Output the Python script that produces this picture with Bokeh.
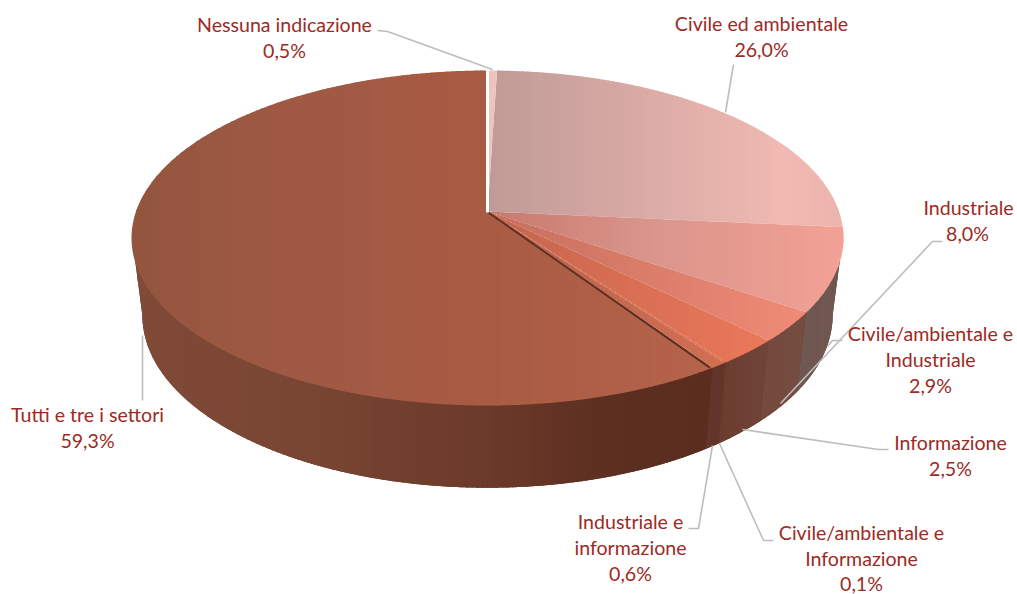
import numpy as np
from bokeh.plotting import figure
from bokeh.embed import file_html
from bokeh.resources import INLINE
from bokeh.core.properties import value

# ---- data (clockwise from 12 o'clock) ----
categories = ["Nessuna indicazione", "Civile ed ambientale", "Industriale",
              "Civile/ambientale e Industriale", "Informazione",
              "Civile/ambientale e Informazione", "Industriale e informazione",
              "Tutti e tre i settori"]
shares = [0.5, 26.0, 8.0, 2.9, 2.5, 0.1, 0.6, 59.3]
share_labels = ["0,5%", "26,0%", "8,0%", "2,9%", "2,5%", "0,1%", "0,6%", "59,3%"]

# ---- styling: colour stops (x pixel, colour) ----
top_stops = [
    [(489, "#eec4be"), (497, "#eec4be")],
    [(489, "#bf9b97"), (620, "#d6a8a3"), (780, "#f0b9b2"), (842, "#ecb4ac")],
    [(489, "#c8786c"), (640, "#d9948a"), (843, "#f3a195")],
    [(489, "#c56f5e"), (807, "#f08b77")],
    [(489, "#c4654d"), (769, "#ec785a")],
    [(489, "#c4654d"), (726, "#e07050")],
    [(489, "#b9624a"), (712, "#d06e52")],
    [(130, "#93553f"), (300, "#a05944"), (487, "#a95b43"), (712, "#b6644b")],
]
side_stops = [
    [(489, "#75504a"), (497, "#75504a")],
    [(760, "#75504a"), (843, "#75504a")],
    [(803, "#6f5850"), (843, "#705650")],
    [(767, "#754b3f"), (807, "#754c40")],
    [(718, "#6b3d2d"), (769, "#71443a")],
    [(700, "#64372a"), (726, "#64372a")],
    [(700, "#63362a"), (720, "#62352a")],
    [(130, "#7f4a37"), (300, "#7a4634"), (487, "#6c3a2a"), (600, "#5c2f20"), (712, "#5a2d1f")],
]
WALL_BASE = "#66392b"
TEXT = "#9c2b25"
GREY = "#bdbdbd"

# label lines: (text, centre x, centre y)
label_lines = [
    [("Nessuna indicazione", 284, 24), (share_labels[0], 284, 50)],
    [("Civile ed ambientale", 761, 23), (share_labels[1], 761, 49)],
    [("Industriale", 968, 207), (share_labels[2], 967, 233)],
    [("Civile/ambientale e", 930, 333), ("Industriale", 930, 359), (share_labels[3], 930, 385)],
    [("Informazione", 950, 442), (share_labels[4], 950, 468)],
    [("Civile/ambientale e", 861, 532), ("Informazione", 861, 558), (share_labels[5], 861, 583)],
    [("Industriale e", 630, 521), ("informazione", 630, 547), (share_labels[6], 630, 573)],
    [("Tutti e tre i settori", 87, 414), (share_labels[7], 87, 440)],
]
leaders = [
    [(377, 30), (387, 31), (492, 69)],
    [(725, 112), (733, 64)],
    [(942, 241), (932, 241), (780, 403)],
    [(842, 340), (832, 340), (827, 346)],
    [(888, 449), (878, 449), (742, 429)],
    [(773, 540), (763, 540), (719, 443)],
    [(688, 528), (698, 528), (712, 445)],
    [(142, 400), (142, 335)],
]

# ---- projection of the pie's disc: perspective view ----
CX = 487.0
K = 53 / 335


def project(theta, apex_y, bx, ay):
    den = 1 + K * np.cos(theta)
    return (CX + bx * np.sin(theta) / den, apex_y - ay * np.cos(theta) / den)


TOP = dict(apex_y=211.0, bx=351.5, ay=163.3)
TOP_UNDER = dict(apex_y=209.5, bx=351.0, ay=163.3)   # wall runs a little under the top face
BOT = dict(apex_y=288.0, bx=340.7, ay=167.7)


def hex2rgb(h):
    return [int(h[i:i + 2], 16) for i in (1, 3, 5)]


def colour(stops, x):
    xs = [s[0] for s in stops]
    rgb = [np.interp(x, xs, [hex2rgb(s[1])[c] for s in stops]) for c in range(3)]
    return "#%02x%02x%02x" % tuple(int(round(v)) for v in rgb)


def clip(poly, a, b):
    def half(pts, inside, cut):
        out = []
        for i in range(len(pts)):
            p0, p1 = pts[i - 1], pts[i]
            i0, i1 = inside(p0), inside(p1)
            if i0 != i1:
                t = (cut - p0[0]) / (p1[0] - p0[0])
                out.append((cut, p0[1] + t * (p1[1] - p0[1])))
            if i1:
                out.append(p1)
        return out
    pts = half(poly, lambda q: q[0] >= a, a)
    if pts:
        pts = half(pts, lambda q: q[0] <= b, b)
    return pts


def strips(poly, stops, xs_out, ys_out, c_out, width=5):
    """Cut a polygon in vertical strips, each overlapping the next by a pixel."""
    x_min, x_max = min(q[0] for q in poly), max(q[0] for q in poly)
    left = x_min
    while left < x_max:
        right = min(left + width, x_max)
        piece = clip(poly, left, right + 1)
        if len(piece) >= 3:
            xs_out.append([q[0] for q in piece])
            ys_out.append([q[1] for q in piece])
            c_out.append(colour(stops, (left + right) / 2))
        left = right


def wall_polygon(theta):
    tx_, ty_ = project(theta, **TOP_UNDER)
    bx_, by_ = project(theta[::-1], **BOT)
    return list(zip(tx_.tolist(), ty_.tolist())) + list(zip(bx_.tolist(), by_.tolist()))


edges = np.cumsum([0.0] + shares) / 100 * 2 * np.pi
edges[-1] = 2 * np.pi

xs_side, ys_side, c_side = [], [], []
xs_top, ys_top, c_top = [], [], []

for i in range(len(shares)):
    # side wall: only the part that faces the viewer, up to the outline's tangent
    th = np.linspace(edges[i], edges[i + 1], max(3, int((edges[i + 1] - edges[i]) / 0.005)))
    front = th[np.cos(th) < -K]
    if len(front) >= 2:
        strips(wall_polygon(front), side_stops[i], xs_side, ys_side, c_side)

for i in list(range(len(shares)))[::-1]:
    th = np.linspace(edges[i], edges[i + 1], max(3, int((edges[i + 1] - edges[i]) / 0.01)))
    ax, ay = project(th, **TOP)
    poly = [(CX, TOP["apex_y"])] + list(zip(ax.tolist(), ay.tolist()))
    strips(poly, top_stops[i], xs_top, ys_top, c_top)

p = figure(width=1017, height=594, x_range=(0, 1017), y_range=(594, 0),
           output_backend="svg", toolbar_location=None, min_border=0)
p.axis.visible = False
p.grid.visible = False
p.outline_line_color = None
p.background_fill_color = "white"
p.border_fill_color = "white"

# one solid wall beneath the slices' walls, so no background shows at their joints
all_front = np.linspace(np.arccos(-K), 2 * np.pi - np.arccos(-K), 400)
base = wall_polygon(all_front)
p.patch([q[0] for q in base], [q[1] for q in base], fill_color=WALL_BASE, line_color=None)

p.patches(xs_side, ys_side, fill_color=c_side, line_color=None)
p.patches(xs_top, ys_top, fill_color=c_top, line_color=None)

# dark seam along the front edge of the largest slice, white seam at 12 o'clock
e_x, e_y = project(edges[7], **TOP)
p.line([CX + 1, e_x - 3], [TOP["apex_y"] + 1, e_y], line_color="#5c3022", line_width=2)
b_x, b_y = project(0.0, **TOP)
p.line([b_x, CX], [b_y - 1, TOP["apex_y"] + 1], line_color="white", line_width=3)

for pts in leaders:
    p.line([q[0] for q in pts], [q[1] for q in pts], line_color=GREY, line_width=1.6)

tx, ty, tt = [], [], []
for lines in label_lines:
    for s, x, y in lines:
        tt.append(s)
        tx.append(x)
        ty.append(y)
p.text(tx, ty, text=tt, text_font=value("Lato"), text_font_size="19.6px",
       text_color=TEXT, text_align="center", text_baseline="middle")

open("out.html", "w").write(file_html(p, INLINE))
